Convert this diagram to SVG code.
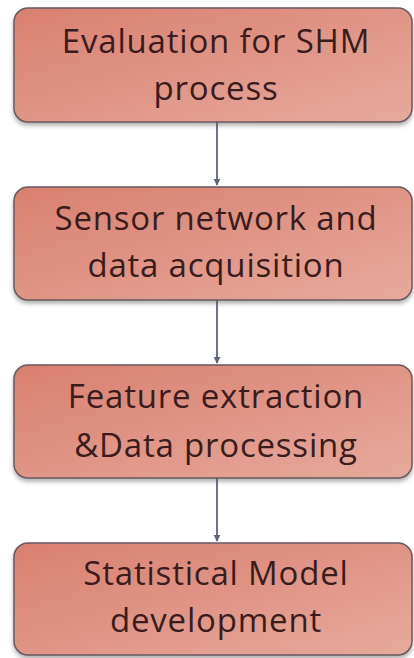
<svg xmlns="http://www.w3.org/2000/svg" width="414" height="658" viewBox="0 0 414 658">
<defs>
<linearGradient id="g" x1="0" y1="0" x2="1" y2="1">
<stop offset="0" stop-color="#d9806f"/>
<stop offset="1" stop-color="#e6aa9c"/>
</linearGradient>
<filter id="sh" x="-5%" y="-10%" width="110%" height="130%">
<feDropShadow dx="0" dy="3" stdDeviation="2" flood-color="#555" flood-opacity="0.45"/>
</filter>
<marker id="ah" viewBox="0 0 10 10" refX="9" refY="5" markerWidth="4" markerHeight="4" orient="auto">
<path d="M0,0 L10,5 L0,10 z" fill="#5d6478"/>
</marker>
</defs>
<style>
.box{fill:url(#g);stroke:#6a5a60;stroke-width:1.5;filter:url(#sh)}
.t{font-family:"Open Sans","DejaVu Sans",sans-serif;font-size:33px;letter-spacing:0.8px;fill:#3a1c1c;text-anchor:middle}
.c{stroke:#5d6478;stroke-width:1.8;fill:none;marker-end:url(#ah)}
</style>
<rect width="414" height="658" fill="#ffffff"/>
<g id="connectors">
<line class="c" x1="217" y1="122" x2="217" y2="185"/>
<line class="c" x1="217" y1="300" x2="217" y2="363"/>
<line class="c" x1="217" y1="478" x2="217" y2="541"/>
</g>
<g id="node1">
<rect class="box" x="14" y="8" width="398" height="114" rx="14"/>
<text class="t" x="216" y="53">Evaluation for SHM</text>
<text class="t" x="216" y="100">process</text>
</g>
<g id="node2">
<rect class="box" x="14" y="187" width="398" height="113" rx="14"/>
<text class="t" x="216" y="230">Sensor network and</text>
<text class="t" x="216" y="277">data acquisition</text>
</g>
<g id="node3">
<rect class="box" x="14" y="365" width="398" height="113" rx="14"/>
<text class="t" x="216" y="408">Feature extraction</text>
<text class="t" x="216" y="457">&amp;Data processing</text>
</g>
<g id="node4">
<rect class="box" x="14" y="543" width="398" height="112" rx="14"/>
<text class="t" x="216" y="585">Statistical Model</text>
<text class="t" x="216" y="632">development</text>
</g>
</svg>
